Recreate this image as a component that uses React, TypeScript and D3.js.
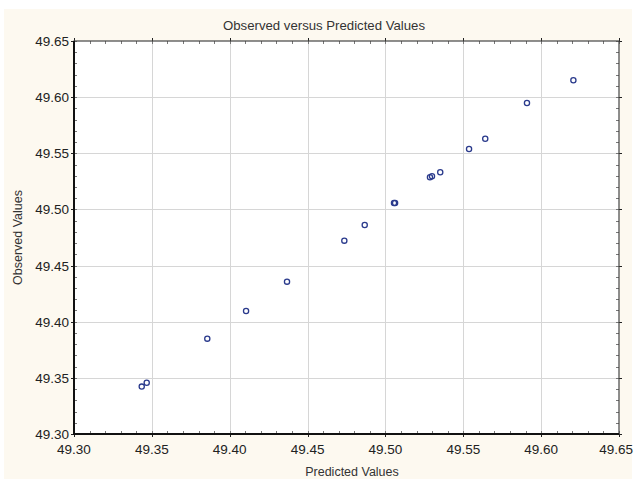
import React, { useEffect, useRef } from "react";
import * as d3 from "d3";

const WIDTH = 634;
const HEIGHT = 480;

const predicted = [
  49.3435, 49.3467, 49.3856, 49.4105, 49.4368, 49.4736, 49.4867, 49.5055, 49.5062,
  49.5286, 49.5299, 49.5352, 49.5537, 49.5641, 49.5909, 49.6207,
];
const observed = [
  49.3422, 49.3457, 49.3849, 49.4096, 49.4357, 49.4722, 49.4861, 49.5057, 49.5057,
  49.5286, 49.5295, 49.5331, 49.5538, 49.5630, 49.5948, 49.6150,
];
const tickValues = [49.3, 49.35, 49.4, 49.45, 49.5, 49.55, 49.6, 49.65];
const minorTickValues = d3.range(49.3, 49.6501, 0.01);

const titleText = "Observed versus Predicted Values";
const xLabel = "Predicted Values";
const yLabel = "Observed Values";

export default function App() {
  const ref = useRef<SVGSVGElement>(null);

  useEffect(() => {
    const svg = d3.select(ref.current);
    svg.selectAll("*").remove();

    const left = 74, right = 619, top = 41, bottom = 434;
    const x = d3.scaleLinear().domain([49.3, 49.65]).range([left, right]);
    const y = d3.scaleLinear().domain([49.3, 49.65]).range([bottom, top]);
    const font = "Arial, 'Liberation Sans', sans-serif";

    svg.append("rect").attr("width", WIDTH).attr("height", HEIGHT).attr("fill", "#ffffff");
    svg.append("rect").attr("x", 4).attr("y", 9).attr("width", 628).attr("height", 470).attr("fill", "#fdf9f0");
    svg.append("rect").attr("x", left).attr("y", top).attr("width", right - left).attr("height", bottom - top).attr("fill", "#ffffff");

    // grid
    const grid = svg.append("g").attr("stroke", "#d6d6d6").attr("stroke-width", 1);
    tickValues.slice(1, -1).forEach((v) => {
      grid.append("line").attr("x1", Math.round(x(v)) + 0.5).attr("x2", Math.round(x(v)) + 0.5).attr("y1", top).attr("y2", bottom);
      grid.append("line").attr("y1", Math.round(y(v)) + 0.5).attr("y2", Math.round(y(v)) + 0.5).attr("x1", left).attr("x2", right);
    });

    // minor ticks (inward) on all four sides
    const ticks = svg.append("g").attr("stroke", "#777").attr("stroke-width", 1);
    minorTickValues.forEach((v) => {
      const xp = Math.round(x(v)) + 0.5;
      const yp = Math.round(y(v)) + 0.5;
      ticks.append("line").attr("x1", xp).attr("x2", xp).attr("y1", bottom).attr("y2", bottom - 3);
      ticks.append("line").attr("x1", xp).attr("x2", xp).attr("y1", top).attr("y2", top + 3);
      ticks.append("line").attr("y1", yp).attr("y2", yp).attr("x1", left).attr("x2", left + 3);
      ticks.append("line").attr("y1", yp).attr("y2", yp).attr("x1", right).attr("x2", right - 3);
    });
    // major ticks (outward)
    const major = svg.append("g").attr("stroke", "#222").attr("stroke-width", 1);
    tickValues.forEach((v) => {
      const xp = Math.round(x(v)) + 0.5;
      const yp = Math.round(y(v)) + 0.5;
      major.append("line").attr("x1", xp).attr("x2", xp).attr("y1", bottom).attr("y2", bottom + 3);
      major.append("line").attr("x1", xp).attr("x2", xp).attr("y1", top).attr("y2", top - 3);
      major.append("line").attr("y1", yp).attr("y2", yp).attr("x1", left).attr("x2", left - 3);
      major.append("line").attr("y1", yp).attr("y2", yp).attr("x1", right).attr("x2", right + 3);
    });

    // frame
    svg.append("rect").attr("x", left).attr("y", top).attr("width", right - left).attr("height", bottom - top)
      .attr("fill", "none").attr("stroke", "#444").attr("stroke-width", 1.2);
    svg.append("line").attr("x1", left).attr("x2", left).attr("y1", top).attr("y2", bottom + 1).attr("stroke", "#111").attr("stroke-width", 2);
    svg.append("line").attr("x1", left - 1).attr("x2", right).attr("y1", bottom).attr("y2", bottom).attr("stroke", "#111").attr("stroke-width", 2);

    // tick labels; the last x label is kept inside the page edge
    const fmt = d3.format(".2f");
    svg.append("g").selectAll("text").data(tickValues).join("text")
      .attr("x", (d, i) => (i === tickValues.length - 1 ? WIDTH - 1 : x(d)))
      .attr("y", bottom + 20)
      .attr("text-anchor", (d, i) => (i === tickValues.length - 1 ? "end" : "middle"))
      .attr("font-family", font).attr("font-size", 13.5).attr("fill", "#222")
      .text((d) => fmt(d));
    svg.append("g").selectAll("text").data(tickValues).join("text")
      .attr("x", left - 5).attr("y", (d) => y(d) + 5)
      .attr("text-anchor", "end").attr("font-family", font).attr("font-size", 13.5).attr("fill", "#222")
      .text((d) => fmt(d));

    // titles
    svg.append("text").attr("x", 324).attr("y", 30).attr("text-anchor", "middle")
      .attr("font-family", font).attr("font-size", 13.2).attr("fill", "#333").text(titleText);
    svg.append("text").attr("x", 352).attr("y", 476).attr("text-anchor", "middle")
      .attr("font-family", font).attr("font-size", 12.5).attr("fill", "#333").text(xLabel);
    svg.append("text").attr("transform", `translate(22, ${(top + bottom) / 2}) rotate(-90)`).attr("text-anchor", "middle")
      .attr("font-family", font).attr("font-size", 12.5).attr("fill", "#333").text(yLabel);

    // points
    svg.append("g").selectAll("circle").data(predicted.map((p, i) => [p, observed[i]])).join("circle")
      .attr("cx", (d) => x(d[0])).attr("cy", (d) => y(d[1])).attr("r", 2.6)
      .attr("fill", "none").attr("stroke", "#2a3a8c").attr("stroke-width", 1.3);
  }, []);

  return (
    <svg ref={ref} width={WIDTH} height={HEIGHT}
      style={{ position: "absolute", left: 0, top: 0, display: "block" }} />
  );
}
